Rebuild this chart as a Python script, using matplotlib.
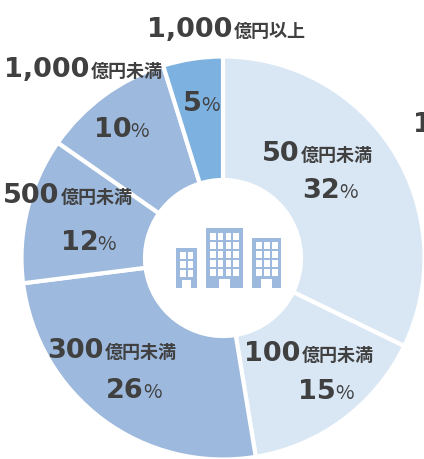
import matplotlib.pyplot as plt
from matplotlib.patches import Rectangle

plt.rcParams['font.family'] = ['DejaVu Sans', 'Noto Sans CJK JP']

# data
categories = ['50', '100', '300', '500', '1,000', '1,000']
units = ['億円未満', '億円未満', '億円未満', '億円未満', '億円未満', '億円以上']
labels = [32, 15, 26, 12, 10, 5]
# slice sizes as measured on the picture, the labels above are rounded
values = [32.2, 15.2, 25.6, 11.7, 10.5, 4.8]
colors = ['#d9e7f5', '#d9e7f5', '#9db9dd', '#9db9dd', '#9db9dd', '#7cb1e0']

TEXT = '#404040'
W, H = 424, 459

fig = plt.figure(figsize=(W / 100, H / 100), dpi=100)
ax = fig.add_axes([0, 0, 1, 1])

ax.pie(values, colors=colors, startangle=90, counterclock=False,
       center=(223, H - 258), radius=201.5,
       wedgeprops=dict(width=123.5, edgecolor='white', linewidth=3), frame=False)
ax.set_xlim(0, W)
ax.set_ylim(0, H)
ax.set_aspect('equal')
ax.axis('off')


# big text followed by small text on the same baseline, x is the left edge
def two_part(x, y, big, small, big_size, small_size, small_weight='bold', gap=1):
    t = ax.text(x, H - y, big, fontsize=big_size, fontweight='bold', color=TEXT,
                family='DejaVu Sans', ha='left', va='baseline')
    fig.canvas.draw()
    box = t.get_window_extent()
    ax.text(box.x1 + gap, H - y, small, fontsize=small_size, fontweight=small_weight,
            color=TEXT, family=['Noto Sans CJK JP', 'DejaVu Sans'], ha='left', va='baseline')


# labels: left x and baseline y
name_pos = [(262, 161), (244, 361), (47, 358), (3, 203), (4, 77), (147, 37)]
pct_pos = [(302, 198), (298, 399), (106, 398), (61, 250), (94, 137), (183, 111)]

for i in range(len(labels)):
    two_part(name_pos[i][0], name_pos[i][1], categories[i], units[i], 19.5, 13)
    two_part(pct_pos[i][0], pct_pos[i][1], str(labels[i]), '%', 19.5, 14.5, 'normal', gap=-1)

# label cut off by the right edge of the picture
ax.text(413, H - 132, '1', fontsize=19.5, fontweight='bold', color=TEXT,
        family='DejaVu Sans', ha='left', va='baseline', clip_on=True)

# building icon
ICON = '#9db9dd'


def building(x0, y0, x1, y1, rows, cols, win_x, win_y, step_x, step_y, door_x0, door_x1, door_top):
    ax.add_patch(Rectangle((x0, H - y1), x1 - x0, y1 - y0, fc=ICON, ec='none', zorder=3))
    for r in range(rows):
        for c in range(cols):
            ax.add_patch(Rectangle((win_x + c * step_x, H - (win_y + r * step_y) - 6.5), 5.5, 6.5,
                                   fc='white', ec='none', zorder=4))
    ax.add_patch(Rectangle((door_x0, H - y1), door_x1 - door_x0, y1 - door_top,
                           fc='white', ec='none', zorder=4))


building(176, 248, 197, 288, 3, 2, 180, 252, 7.5, 9.0, 182, 191, 280)
building(206, 228, 243, 288, 5, 4, 210, 233, 7.8, 9.0, 219, 230, 279)
building(252, 238, 281, 288, 4, 3, 256, 242, 8.0, 9.0, 261, 272, 279)

fig.savefig('out.png', dpi=100, facecolor='white')
